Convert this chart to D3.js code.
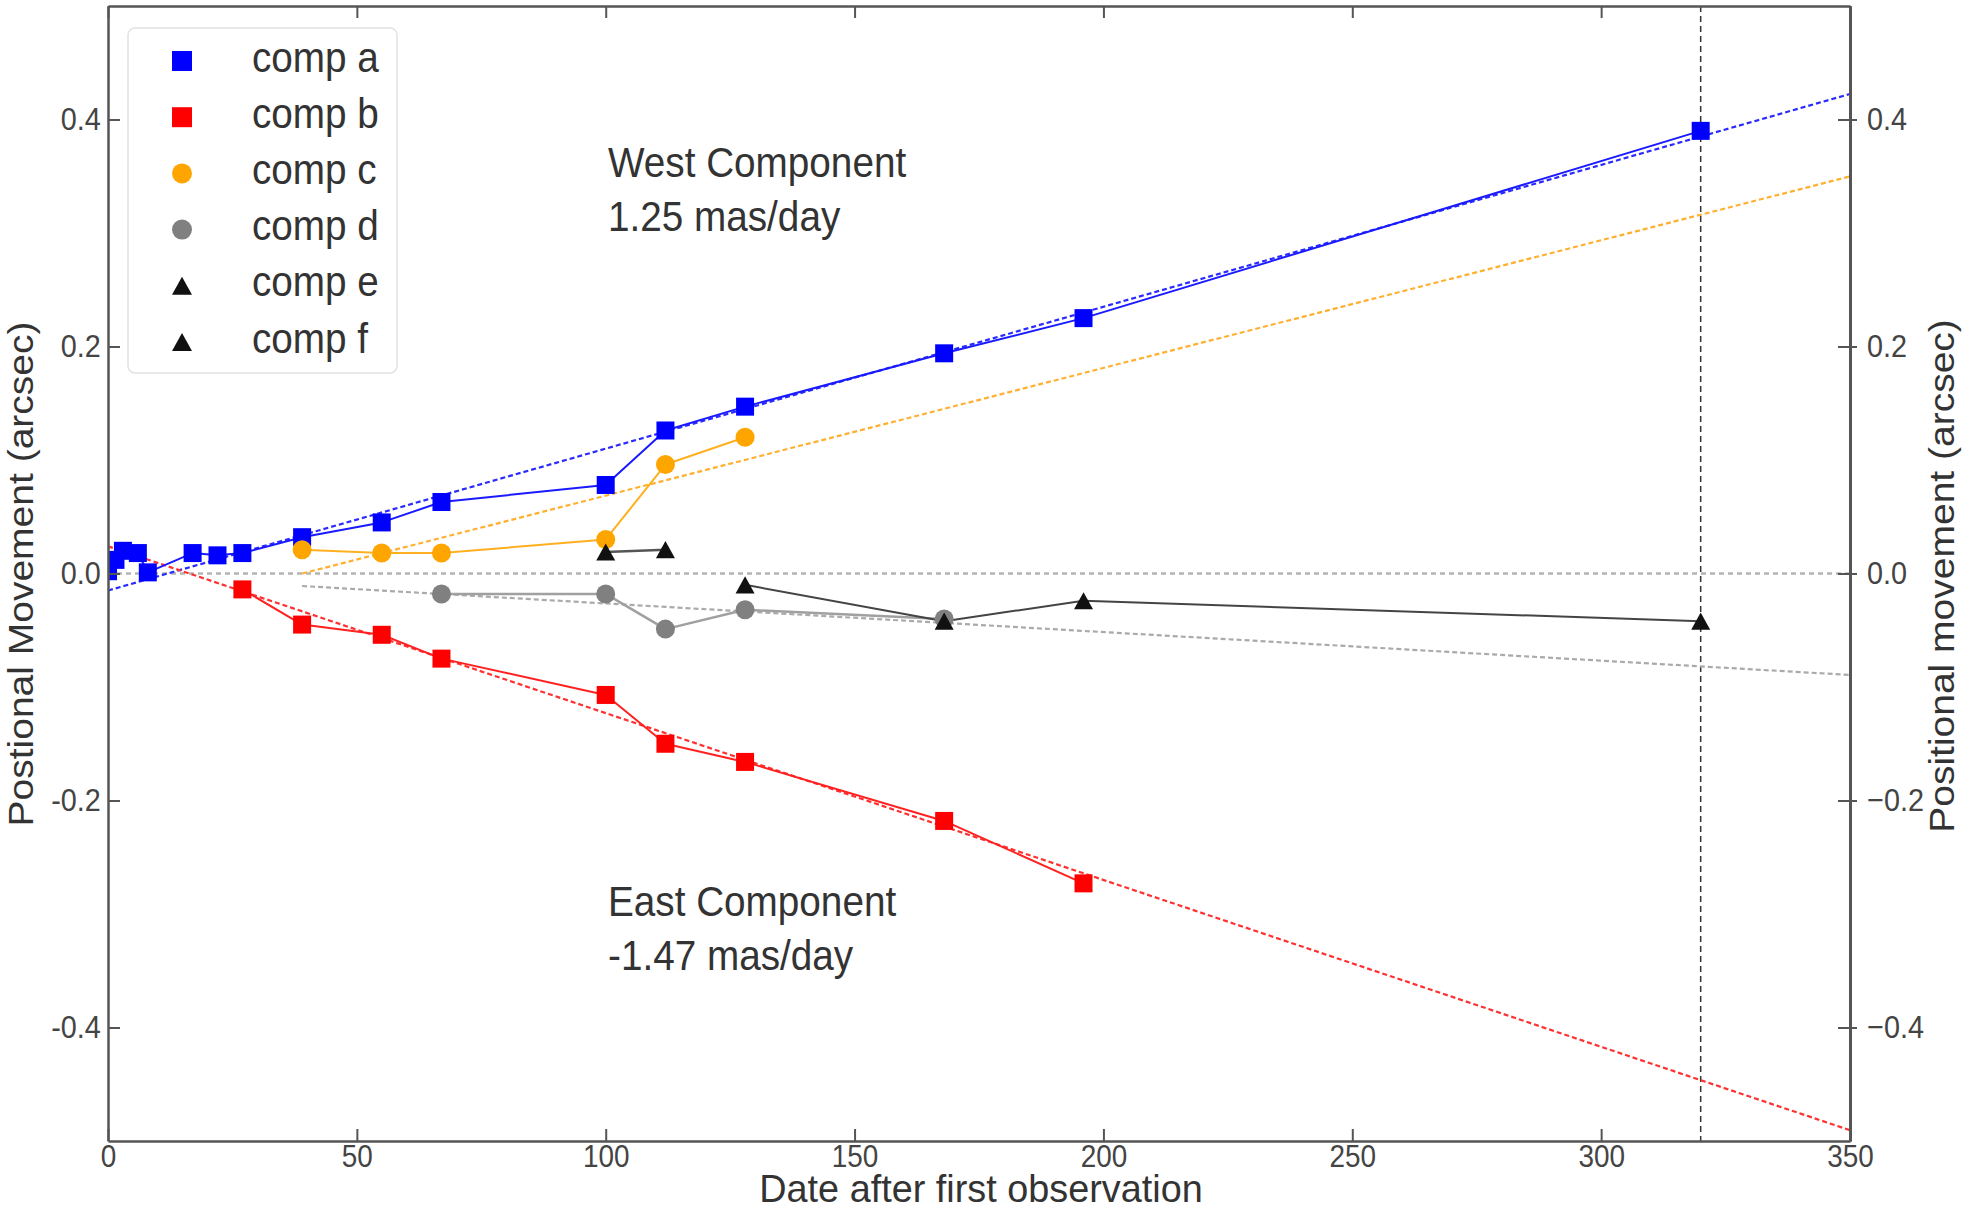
<!DOCTYPE html>
<html>
<head>
<meta charset="utf-8">
<script src="https://cdn.jsdelivr.net/npm/d3@7"></script>
<style>
  body { margin: 0; background: #fff; }
  svg { display: block; }
  text { font-family: "Liberation Sans", Arial, Helvetica, sans-serif; }
</style>
</head>
<body>
<svg id="chart" width="1963" height="1210"></svg>
<script>
// Epochs (days after first observation) and positional offsets (arcsec) per component
const compADays = [0, 1.5, 3, 6, 8, 17, 22, 27, 39, 55, 67, 100, 112, 128, 168, 196, 320];
const compAPos  = [0.002, 0.012, 0.020, 0.018, 0.001, 0.018, 0.016, 0.018, 0.032, 0.045, 0.063, 0.078, 0.126, 0.147, 0.194, 0.225, 0.390];

const compBDays = [27, 39, 55, 67, 100, 112, 128, 168, 196];
const compBPos  = [-0.014, -0.045, -0.054, -0.075, -0.107, -0.150, -0.166, -0.218, -0.273];

const compCDays = [39, 55, 67, 100, 112, 128];
const compCPos  = [0.021, 0.018, 0.018, 0.030, 0.096, 0.120];

const compDDays = [67, 100, 112, 128, 168];
const compDPos  = [-0.018, -0.018, -0.049, -0.032, -0.040];

const compEDays = [100, 112];
const compEPos  = [0.019, 0.021];

const compFDays = [128, 168, 196, 320];
const compFPos  = [-0.010, -0.042, -0.024, -0.042];

// Linear proper-motion fits (arcsec/day, arcsec at day 0) and their day ranges
const fitSlopes     = [0.00125, -0.00147, 0.001125, -0.000252];
const fitIntercepts = [-0.015, 0.024, -0.0439, -0.0012];
const fitStarts     = [0, 0, 39, 39];
const fitEnds       = [350, 350, 350, 350];

const legendLabels = ["comp a", "comp b", "comp c", "comp d", "comp e", "comp f"];
const xTicks = [0, 50, 100, 150, 200, 250, 300, 350];
const yTicks = [-0.4, -0.2, 0.0, 0.2, 0.4];
const markerDay = 320;

const annotations = [
  ["West Component", "1.25 mas/day"],
  ["East Component", "-1.47 mas/day"]
];

// ---- layout ----
const svg = d3.select("#chart");
const L = 108, R = 1850, T = 6, B = 1141;
const x = d3.scaleLinear().domain([0, 350]).range([L, R]);
const y = d3.scaleLinear().domain([-0.5, 0.5]).range([B, T]);

const series = [
  { name: legendLabels[0], days: compADays, pos: compAPos, color: "#0000ff", line: "#1a1aff", lw: 2, shape: "square" },
  { name: legendLabels[1], days: compBDays, pos: compBPos, color: "#ff0000", line: "#ff2020", lw: 2, shape: "square" },
  { name: legendLabels[2], days: compCDays, pos: compCPos, color: "#ffa500", line: "#ffb020", lw: 2, shape: "circle" },
  { name: legendLabels[3], days: compDDays, pos: compDPos, color: "#808080", line: "#a0a0a0", lw: 2.5, shape: "circle" },
  { name: legendLabels[4], days: compEDays, pos: compEPos, color: "#111111", line: "#555555", lw: 2.5, shape: "triangle" },
  { name: legendLabels[5], days: compFDays, pos: compFPos, color: "#111111", line: "#444444", lw: 2, shape: "triangle" }
];
const fitColors = ["#2a2aff", "#ff3030", "#ffb030", "#aaaaaa"];

function markerPath(shape, s) {
  const h = s / 2;
  if (shape === "square") return `M${-h},${-h}H${h}V${h}H${-h}Z`;
  if (shape === "circle") return d3.symbol(d3.symbolCircle, Math.PI * h * h)();
  // triangle centred on its bounding box
  const hh = h * 0.9;
  return `M0,${-hh}L${h},${hh}L${-h},${hh}Z`;
}

svg.append("defs").append("clipPath").attr("id", "plotClip")
  .append("rect").attr("x", L).attr("y", T).attr("width", R - L).attr("height", B - T);

const plot = svg.append("g").attr("clip-path", "url(#plotClip)");

// zero reference
plot.append("line")
  .attr("x1", x(0)).attr("x2", x(350)).attr("y1", y(0)).attr("y2", y(0))
  .attr("stroke", "#b4b4b4").attr("stroke-width", 2.5).attr("stroke-dasharray", "5,4");

// vertical marker of the last epoch
plot.append("line")
  .attr("x1", x(markerDay)).attr("x2", x(markerDay)).attr("y1", T).attr("y2", B)
  .attr("stroke", "#333").attr("stroke-width", 1.5).attr("stroke-dasharray", "6,4");

// fitted proper motions
fitSlopes.forEach((m, i) => {
  const d0 = fitStarts[i], d1 = fitEnds[i];
  plot.append("line")
    .attr("x1", x(d0)).attr("y1", y(fitIntercepts[i] + m * d0))
    .attr("x2", x(d1)).attr("y2", y(fitIntercepts[i] + m * d1))
    .attr("stroke", fitColors[i]).attr("stroke-width", 2.2).attr("stroke-dasharray", "5,3");
});

// measured tracks
const lineGen = d3.line().x(d => x(d[0])).y(d => y(d[1]));
series.forEach(s => {
  const pts = s.days.map((d, i) => [d, s.pos[i]]);
  plot.append("path").datum(pts).attr("d", lineGen)
    .attr("fill", "none").attr("stroke", s.line).attr("stroke-width", s.lw)
    .attr("stroke-linejoin", "round");
});
series.forEach(s => {
  const pts = s.days.map((d, i) => [d, s.pos[i]]);
  const size = s.shape === "square" ? 18 : 19;
  plot.selectAll(null).data(pts).enter().append("path")
    .attr("d", markerPath(s.shape, size))
    .attr("transform", d => `translate(${x(d[0])},${y(d[1])})`)
    .attr("fill", s.color);
});

// ---- axes ----
const axisColor = "#555";
function styleAxis(g, size) {
  g.select(".domain").attr("stroke", axisColor).attr("stroke-width", 2.5);
  g.selectAll(".tick line").attr("stroke", axisColor).attr("stroke-width", 2);
  g.selectAll(".tick text").attr("fill", "#444").attr("font-size", size || 32)
    .attr("font-family", "Liberation Sans, Arial, sans-serif")
    .attr("transform", "scale(0.9,1)");
}

svg.append("g").attr("transform", `translate(0,${B})`)
  .call(d3.axisBottom(x).tickValues(xTicks).tickFormat(d3.format("d"))
    .tickSizeInner(-12).tickSizeOuter(0).tickPadding(4))
  .call(styleAxis, 31);

svg.append("g").attr("transform", `translate(0,${T})`)
  .call(d3.axisTop(x).tickValues(xTicks).tickFormat("")
    .tickSizeInner(-12).tickSizeOuter(0))
  .call(styleAxis);

svg.append("g").attr("transform", `translate(${L},0)`)
  .call(d3.axisLeft(y).tickValues(yTicks)
    .tickFormat(d => d3.format(".1f")(d).replace("\u2212", "-"))
    .tickSizeInner(-12).tickSizeOuter(0).tickPadding(8))
  .call(styleAxis);

svg.append("g").attr("transform", `translate(${R},0)`)
  .call(d3.axisRight(y).tickValues(yTicks).tickFormat("")
    .tickSizeInner(-12).tickSizeOuter(0))
  .call(styleAxis);

svg.append("g").attr("transform", `translate(${R},0)`)
  .call(d3.axisRight(y).tickValues(yTicks).tickFormat(d3.format(".1f"))
    .tickSizeInner(7).tickSizeOuter(0).tickPadding(12))
  .call(styleAxis)
  .call(g => g.select(".domain").attr("stroke-width", 3));

// axis titles
svg.append("text")
  .attr("transform", `translate(33,574) rotate(-90) scale(1,0.9)`)
  .attr("text-anchor", "middle").attr("font-size", 39).attr("fill", "#333")
  .text("Postional Movement (arcsec)");

svg.append("text")
  .attr("transform", `translate(1954,576) rotate(-90) scale(1,0.9)`)
  .attr("text-anchor", "middle").attr("font-size", 39).attr("fill", "#333")
  .text("Positional movement (arcsec)");

svg.append("text")
  .attr("transform", `translate(${(L + R) / 2 + 2},1202) scale(0.97,1)`)
  .attr("text-anchor", "middle").attr("font-size", 39).attr("fill", "#333")
  .text("Date after first observation");

// annotations
const annY = [177, 916];
annotations.forEach((a, i) => {
  const g = svg.append("g").attr("transform", `translate(608,${annY[i]}) scale(0.9,1)`);
  g.append("text").attr("font-size", 43).attr("fill", "#333").text(a[0]);
  g.append("text").attr("y", 54).attr("font-size", 43).attr("fill", "#333").text(a[1]);
});

// ---- legend ----
const legend = svg.append("g");
legend.append("rect")
  .attr("x", 128).attr("y", 28).attr("width", 269).attr("height", 345)
  .attr("rx", 7).attr("fill", "#fff").attr("fill-opacity", 0.85)
  .attr("stroke", "#e2e2e2").attr("stroke-width", 1.5);
series.forEach((s, i) => {
  const cy = 61 + i * 56.2;
  legend.append("path").attr("d", markerPath(s.shape, 20))
    .attr("transform", `translate(182,${cy})`).attr("fill", s.color);
  legend.append("text")
    .attr("transform", `translate(252,${cy + 10.5}) scale(0.9,1)`)
    .attr("font-size", 43).attr("fill", "#333").text(s.name);
});
</script>
</body>
</html>
